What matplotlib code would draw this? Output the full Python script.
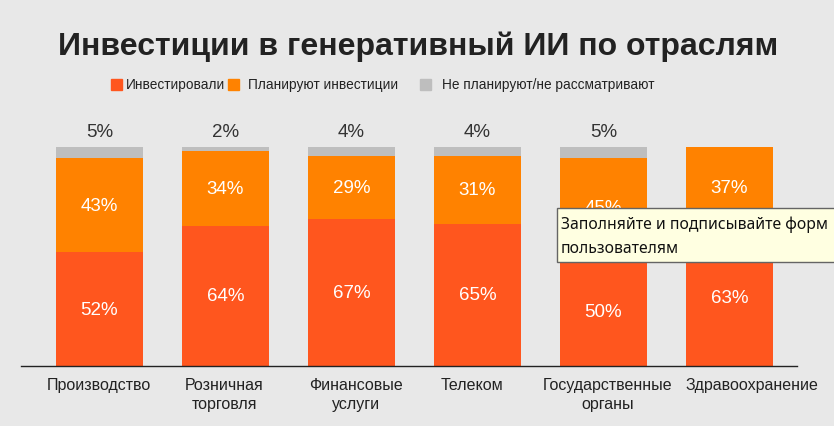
import matplotlib
matplotlib.use("Agg")
import matplotlib.pyplot as plt
from matplotlib.patches import Rectangle
from matplotlib.transforms import ScaledTranslation
import numpy as np

categories = ["Производство", "Розничная\nторговля", "Финансовые\nуслуги", "Телеком",
              "Государственные\nорганы", "Здравоохранение"]
invested = [52, 64, 67, 65, 50, 63]
planned = [43, 34, 29, 31, 45, 37]
not_planned = [5, 2, 4, 4, 5, 0]
series_names = ["Инвестировали", "Планируют инвестиции", "Не планируют/не рассматривают"]
title = "Инвестиции в генеративный ИИ по отраслям"
tooltip_text = "Заполняйте и подписывайте форм\nпользователям"

C_RED = "#FF561E"
C_ORANGE = "#FF8200"
C_GRAY = "#BEBEBE"
BG = "#E8E8E8"

W, H = 834, 427
fig = plt.figure(figsize=(W / 100, H / 100), dpi=100, facecolor=BG)

def fx(px):
    return px / W

def fy(py):
    return 1 - py / H

ax = fig.add_axes([fx(21), fy(367), fx(797) - fx(21), fy(148) - fy(367)])
ax.set_facecolor(BG)
x = np.arange(len(categories))
width = 0.69
inv = np.array(invested)
pl = np.array(planned)
npl = np.array(not_planned)
ax.bar(x, inv, width, color=C_RED, zorder=2)
ax.bar(x, pl, width, bottom=inv, color=C_ORANGE, zorder=2)
ax.bar(x, npl, width, bottom=inv + pl, color=C_GRAY, zorder=2)
ax.set_xlim(-0.623, 5.536)
ax.set_ylim(0, 100)

for i in range(len(categories)):
    ax.text(x[i], inv[i] / 2, f"{inv[i]}%", ha="center", va="center",
            color="white", fontsize=13.5, family="Liberation Sans", zorder=3)
    ax.text(x[i], inv[i] + pl[i] / 2, f"{pl[i]}%", ha="center", va="center",
            color="white", fontsize=13.5, family="Liberation Sans", zorder=3)
    if npl[i] > 0:
        ax.text(x[i], 100 + 7, f"{npl[i]}%", ha="center", va="center",
                color="#333333", fontsize=13.5, family="Liberation Sans", clip_on=False)

for s in ["top", "right", "left"]:
    ax.spines[s].set_visible(False)
ax.spines["bottom"].set_color("#222222")
ax.spines["bottom"].set_linewidth(1.0)
ax.set_yticks([])
ax.set_xticks(x)
ax.set_xticklabels(categories, family="Liberation Sans",
                   fontsize=11.5, color="#222222", linespacing=1.3)
ax.tick_params(axis="x", length=0, pad=8)

# horizontal nudges of category labels (pixels)
label_nudge = [-1, -1, 5, -5, 4, 22]
for lbl, dx in zip(ax.get_xticklabels(), label_nudge):
    lbl.set_transform(lbl.get_transform() + ScaledTranslation(dx / 100, 0, fig.dpi_scale_trans))

fig.text(fx(418), fy(47), title, ha="center", va="center", fontsize=23,
         fontweight="bold", family="Liberation Sans", color="#222222")

# legend
leg_items = [(111, 126, C_RED), (228, 248, C_ORANGE), (420, 442, C_GRAY)]
for (sx, tx, c), name in zip(leg_items, series_names):
    fig.patches.append(Rectangle((fx(sx), fy(91)), fx(11), 11 / H, color=c,
                                 transform=fig.transFigure, figure=fig))
    fig.text(fx(tx), fy(85), name, ha="left", va="center", fontsize=9.8,
             family="Liberation Sans", color="#222222")

# tooltip overlay
fig.patches.append(Rectangle((fx(557), fy(263)), fx(300), 54 / H, facecolor="#FFFFE1",
                             edgecolor="#646464", linewidth=1.0,
                             transform=fig.transFigure, figure=fig, zorder=5))
fig.text(fx(561), fy(237), tooltip_text, ha="left", va="center", fontsize=11.3,
         family="Noto Sans", color="#111111", linespacing=1.65, zorder=6)

fig.savefig("out.png", dpi=100, facecolor=BG)
